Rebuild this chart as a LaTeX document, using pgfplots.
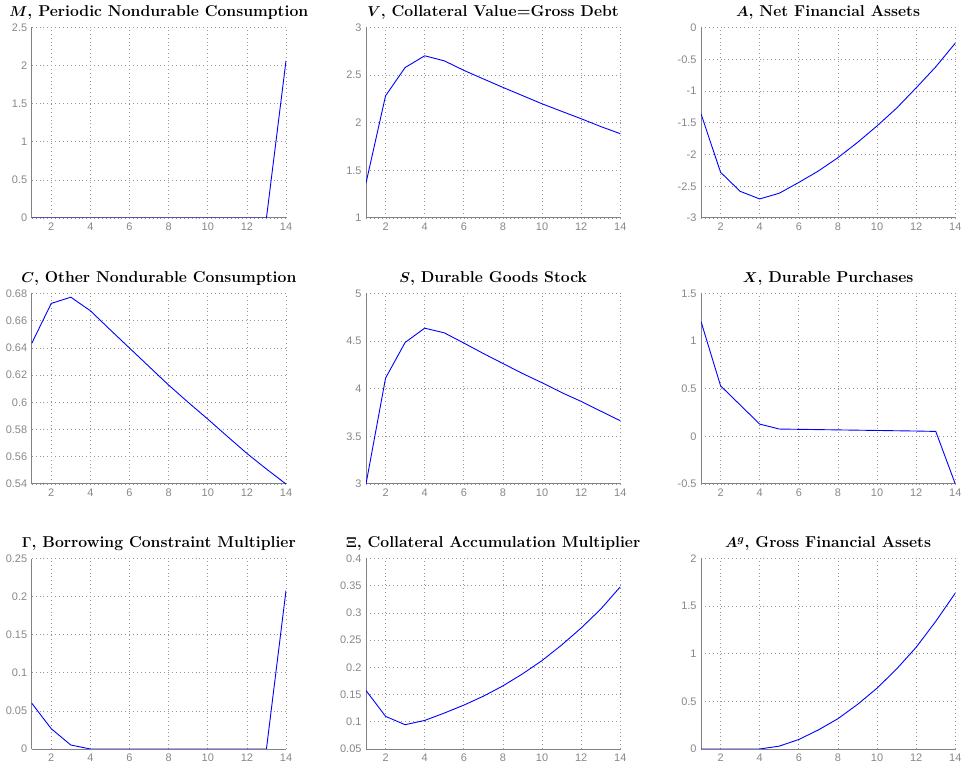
\documentclass[border=0pt]{standalone}
\usepackage{fontspec}
\usepackage{pgfplots}
\usepackage{pgfplotstable}
\pgfplotsset{compat=1.18}
\newfontfamily\tickfont{Liberation Sans}
\definecolor{tickgray}{RGB}{135,135,135}
\definecolor{axgray}{RGB}{130,130,130}
\definecolor{gridgray}{RGB}{150,150,150}
\definecolor{mblue}{RGB}{0,0,255}

\pgfplotstableread{
t M V A C S X G Xi Ag
1 0 1.367 -1.36 0.6433 3.000 1.206 0.0602 0.1575 0
2 0 2.283 -2.28 0.6727 4.112 0.531 0.0266 0.110 0
3 0 2.580 -2.58 0.6773 4.486 0.330 0.0052 0.0946 0
4 0 2.703 -2.70 0.6673 4.636 0.129 0 0.1025 0
5 0 2.650 -2.61 0.6535 4.587 0.077 0 0.116 0.03
6 0 2.55 -2.44 0.6399 4.48 0.074 0 0.1306 0.10
7 0 2.46 -2.26 0.6263 4.37 0.071 0 0.147 0.20
8 0 2.371 -2.05 0.6127 4.265 0.068 0 0.166 0.318
9 0 2.285 -1.81 0.600 4.16 0.065 0 0.188 0.468
10 0 2.199 -1.55 0.5877 4.063 0.062 0 0.2125 0.639
11 0 2.12 -1.27 0.575 3.96 0.059 0 0.241 0.84
12 0 2.042 -0.95 0.5625 3.867 0.056 0 0.2723 1.068
13 0 1.96 -0.62 0.551 3.765 0.052 0 0.307 1.34
14 2.063 1.885 -0.246 0.540 3.664 -0.5 0.208 0.348 1.637
}\data

\pgfplotsset{mstyle/.style={
  scale only axis, width=254.3bp, height=190.5bp, anchor=south west,
  xmin=1, xmax=14, xtick={2,4,...,14}, xticklabels={2,4,6,8,10,12,14},
  /pgf/number format/assume math mode=true,
  axis lines*=left, axis line style={axgray, line width=1bp},
  major tick length=0pt,
  grid=major, grid style={gridgray, line width=0.7bp, dash pattern=on 0.9bp off 3bp},
  tick label style={font=\tickfont\fontsize{11}{13}\selectfont, text=tickgray},
  xticklabel style={yshift=-1bp},
  yticklabel style={xshift=-1bp},
  title style={font=\fontsize{15.8}{19}\selectfont\bfseries\boldmath, yshift=-1.5bp},
  every axis plot/.style={mblue, line width=0.9bp, no marks},
}}

\begin{document}
\begin{tikzpicture}
\path[use as bounding box] (0,0) rectangle (978bp,772bp);
% Row 1
\begin{axis}[mstyle, at={(31.7bp,554bp)}, ymin=0, ymax=2.5,
  ytick={0,0.5,1,1.5,2,2.5}, yticklabels={0,0.5,1,1.5,2,2.5},
  title={$M$, Periodic Nondurable Consumption}]
\addplot table[x=t,y=M]{\data};
\end{axis}
\begin{axis}[mstyle, at={(366bp,554bp)}, ymin=1, ymax=3,
  ytick={1,1.5,2,2.5,3}, yticklabels={1,1.5,2,2.5,3},
  title={$V$, Collateral Value=Gross Debt}]
\addplot table[x=t,y=V]{\data};
\end{axis}
\begin{axis}[mstyle, at={(701bp,554bp)}, ymin=-3, ymax=0,
  ytick={-3,-2.5,-2,-1.5,-1,-0.5,0}, yticklabels={-3,-2.5,-2,-1.5,-1,-0.5,0},
  title={$A$, Net Financial Assets}]
\addplot table[x=t,y=A]{\data};
\end{axis}
% Row 2
\begin{axis}[mstyle, at={(31.7bp,288bp)}, ymin=0.54, ymax=0.68,
  ytick={0.54,0.56,0.58,0.6,0.62,0.64,0.66,0.68}, yticklabels={0.54,0.56,0.58,0.6,0.62,0.64,0.66,0.68},
  title={$C$, Other Nondurable Consumption}]
\addplot table[x=t,y=C]{\data};
\end{axis}
\begin{axis}[mstyle, at={(366bp,288bp)}, ymin=3, ymax=5,
  ytick={3,3.5,4,4.5,5}, yticklabels={3,3.5,4,4.5,5},
  title={$S$, Durable Goods Stock}]
\addplot table[x=t,y=S]{\data};
\end{axis}
\begin{axis}[mstyle, at={(701bp,288bp)}, ymin=-0.5, ymax=1.5,
  ytick={-0.5,0,0.5,1,1.5}, yticklabels={-0.5,0,0.5,1,1.5},
  title={$X$, Durable Purchases}]
\addplot table[x=t,y=X]{\data};
\end{axis}
% Row 3
\begin{axis}[mstyle, at={(31.7bp,23bp)}, ymin=0, ymax=0.25,
  ytick={0,0.05,0.1,0.15,0.2,0.25}, yticklabels={0,0.05,0.1,0.15,0.2,0.25},
  title={$\Gamma$, Borrowing Constraint Multiplier}]
\addplot table[x=t,y=G]{\data};
\end{axis}
\begin{axis}[mstyle, at={(366bp,23bp)}, ymin=0.05, ymax=0.4,
  ytick={0.05,0.1,0.15,0.2,0.25,0.3,0.35,0.4}, yticklabels={0.05,0.1,0.15,0.2,0.25,0.3,0.35,0.4},
  title={$\Xi$, Collateral Accumulation Multiplier}]
\addplot table[x=t,y=Xi]{\data};
\end{axis}
\begin{axis}[mstyle, at={(701bp,23bp)}, ymin=0, ymax=2,
  ytick={0,0.5,1,1.5,2}, yticklabels={0,0.5,1,1.5,2},
  title={$A^g$, Gross Financial Assets}]
\addplot table[x=t,y=Ag]{\data};
\end{axis}
\end{tikzpicture}
\end{document}
